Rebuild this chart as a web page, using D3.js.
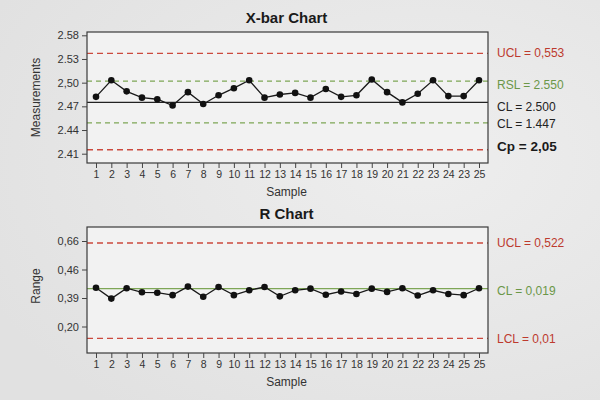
<!DOCTYPE html>
<html>
<head>
<meta charset="utf-8">
<script src="https://cdn.jsdelivr.net/npm/d3@7"></script>
<style>
  html, body { margin: 0; padding: 0; }
  body { width: 600px; height: 400px; overflow: hidden; font-family: "Liberation Sans", Arial, sans-serif; }
  .tick text { fill: #333; }
</style>
</head>
<body>
<script>
(function () {

  // sample tick labels (as printed on the source chart)
  let xbarSamples = ['1','2','3','4','5','6','7','8','9','10','11','12','13','14','15','16','17','18','19','20','21','22','23','24','23','25'];
  let rSamples    = ['1','2','3','4','5','6','7','8','9','10','11','12','13','14','15','16','17','18','19','20','21','22','23','24','25','25'];

  // X-bar chart
  let xbarValues = [2.482, 2.503, 2.489, 2.481, 2.479, 2.471, 2.488, 2.473, 2.484, 2.493,
                    2.503, 2.481, 2.485, 2.487, 2.481, 2.492, 2.482, 2.484, 2.504, 2.488,
                    2.475, 2.486, 2.503, 2.483, 2.483, 2.503];
  let xbarTicks  = [2.41, 2.44, 2.47, 2.50, 2.53, 2.58];
  let xbarTickLabels = ['2.41', '2.44', '2.47', '2,50', '2.53', '2.58'];
  let xbarLines  = [
    { value: 2.542, kind: 'ucl', label: 'UCL = 0,553' },
    { value: 2.502, kind: 'spec', label: 'RSL = 2.550' },
    { value: 2.475, kind: 'cl', label: 'CL = 2.500' },
    { value: 2.449, kind: 'spec', label: 'CL = 1.447' },
    { value: 2.415, kind: 'ucl', label: 'Cp = 2,05' }
  ];

  // R chart
  let rValues = [0.415, 0.386, 0.414, 0.404, 0.403, 0.397, 0.418, 0.393, 0.417, 0.397,
                 0.409, 0.417, 0.394, 0.409, 0.413, 0.398, 0.406, 0.400, 0.413, 0.405,
                 0.414, 0.396, 0.409, 0.400, 0.397, 0.414];
  let rTicks = [0.20, 0.39, 0.46, 0.66];
  let rTickLabels = ['0,20', '0,39', '0,46', '0,66'];
  let rLines = [
    { value: 0.646, kind: 'ucl', label: 'UCL = 0,522' },
    { value: 0.413, kind: 'clg', label: 'CL = 0,019' },
    { value: 0.121, kind: 'ucl', label: 'LCL = 0,01' }
  ];

  let red = '#cc4a3e', green = '#7ea656';
  let lineStyle = {
    ucl:  { stroke: red,   dash: '6,4', width: 1.3 },
    spec: { stroke: green, dash: '5,4', width: 1.3 },
    cl:   { stroke: '#222', dash: null, width: 1.2 },
    clg:  { stroke: green, dash: null, width: 1.3 }
  };

  let W = 600, H = 400;
  let svg = d3.select('body').append('svg').attr('width', W).attr('height', H);

  let defs = svg.append('defs');
  let grad = defs.append('radialGradient').attr('id', 'bg').attr('cx', '70%').attr('cy', '40%').attr('r', '80%');
  grad.append('stop').attr('offset', '0%').attr('stop-color', '#eeeeee');
  grad.append('stop').attr('offset', '100%').attr('stop-color', '#e1e1e1');
  svg.append('rect').attr('width', W).attr('height', H).attr('fill', 'url(#bg)');

  function drawChart(opt) {
    let left = 87, right = 488;
    let w = right - left, h = opt.bottom - opt.top;
    let g = svg.append('g').attr('transform', 'translate(' + left + ',' + opt.top + ')');

    g.append('rect').attr('width', w).attr('height', h).attr('fill', '#f2f2f2');

    let x = d3.scalePoint().domain(d3.range(opt.samples.length)).range([9, w - 9]);

    // evenly spaced tick rows, non-uniform values between them
    let step = (h - opt.padTop - opt.padBottom) / (opt.ticks.length - 1);
    let y = d3.scaleLinear().domain(opt.ticks)
      .range(opt.ticks.map(function (d, i) { return h - opt.padBottom - i * step; }));

    // reference lines + labels
    opt.lines.forEach(function (l, i) {
      let s = lineStyle[l.kind];
      g.append('line')
        .attr('x1', 0).attr('x2', w)
        .attr('y1', y(l.value)).attr('y2', y(l.value))
        .attr('stroke', s.stroke).attr('stroke-width', s.width)
        .attr('stroke-dasharray', s.dash);
      let t = g.append('text')
        .attr('x', w + 9)
        .attr('y', y(l.value) + opt.labelDy[i])
        .attr('dy', '0.35em')
        .attr('font-size', 12)
        .attr('fill', l.kind == 'cl' ? '#222' : s.stroke == green ? '#6b9748' : '#bd3a2e')
        .text(l.label);
      if (/^CL = 1/.test(l.label)) t.attr('fill', '#222');
      if (/^Cp/.test(l.label)) t.attr('fill', '#1a1a1a').attr('font-weight', 'bold').attr('font-size', 13.5);
    });

    let line = d3.line()
      .x(function (d, i) { return x(i); })
      .y(function (d) { return y(d); });

    g.append('path').datum(opt.values)
      .attr('d', line).attr('fill', 'none')
      .attr('stroke', '#1a1a1a').attr('stroke-width', 1.3);

    g.selectAll('circle.pt').data(opt.values).enter()
      .append('circle').attr('class', 'pt')
      .attr('cx', function (d, i) { return x(i); })
      .attr('cy', function (d) { return y(d); })
      .attr('r', 3.3).attr('fill', '#111');

    g.append('rect').attr('width', w).attr('height', h)
      .attr('fill', 'none').attr('stroke', '#3a3a3a').attr('stroke-width', 1.2);

    let yAxis = d3.axisLeft(y).tickValues(opt.ticks)
      .tickFormat(function (d, i) { return opt.tickLabels[i]; })
      .tickSize(5).tickPadding(3);
    let ya = g.append('g').call(yAxis);
    ya.select('.domain').remove();
    ya.selectAll('text').attr('font-size', 11).attr('font-family', '"Liberation Sans", Arial, sans-serif');
    ya.selectAll('line').attr('stroke', '#444');

    let xAxis = d3.axisBottom(x)
      .tickFormat(function (i) { return opt.samples[i]; })
      .tickSize(5).tickPadding(3);
    let xa = g.append('g').attr('transform', 'translate(0,' + h + ')').call(xAxis);
    xa.select('.domain').remove();
    xa.selectAll('text').attr('font-size', 10.5).attr('font-family', '"Liberation Sans", Arial, sans-serif');
    xa.selectAll('line').attr('stroke', '#444');

    g.append('text').attr('x', w / 2 - 1).attr('y', h + 33)
      .attr('text-anchor', 'middle').attr('font-size', 12).attr('fill', '#333')
      .text('Sample');

    g.append('text')
      .attr('transform', 'translate(' + (-47) + ',' + (h / 2 - opt.yTitleShift) + ') rotate(-90)')
      .attr('text-anchor', 'middle').attr('font-size', 12).attr('fill', '#333')
      .text(opt.yTitle);

    g.append('text').attr('x', w / 2 - 1).attr('y', opt.titleY)
      .attr('text-anchor', 'middle').attr('font-size', 15).attr('font-weight', 'bold')
      .attr('fill', '#1a1a1a').text(opt.title);
  }

  drawChart({
    title: 'X-bar Chart', yTitle: 'Measurements', yTitleShift: 0,
    top: 32, bottom: 163, padTop: 3.3, padBottom: 9.3, titleY: -9,
    samples: xbarSamples, values: xbarValues,
    ticks: xbarTicks, tickLabels: xbarTickLabels,
    lines: xbarLines, labelDy: [0, 3.5, 4.5, 0.5, -3]
  });

  drawChart({
    title: 'R Chart', yTitle: 'Range', yTitleShift: 4,
    top: 227, bottom: 353, padTop: 14, padBottom: 26.5, titleY: -8,
    samples: rSamples, values: rValues,
    ticks: rTicks, tickLabels: rTickLabels,
    lines: rLines, labelDy: [0, 2, 0]
  });

})();
</script>
</body>
</html>
